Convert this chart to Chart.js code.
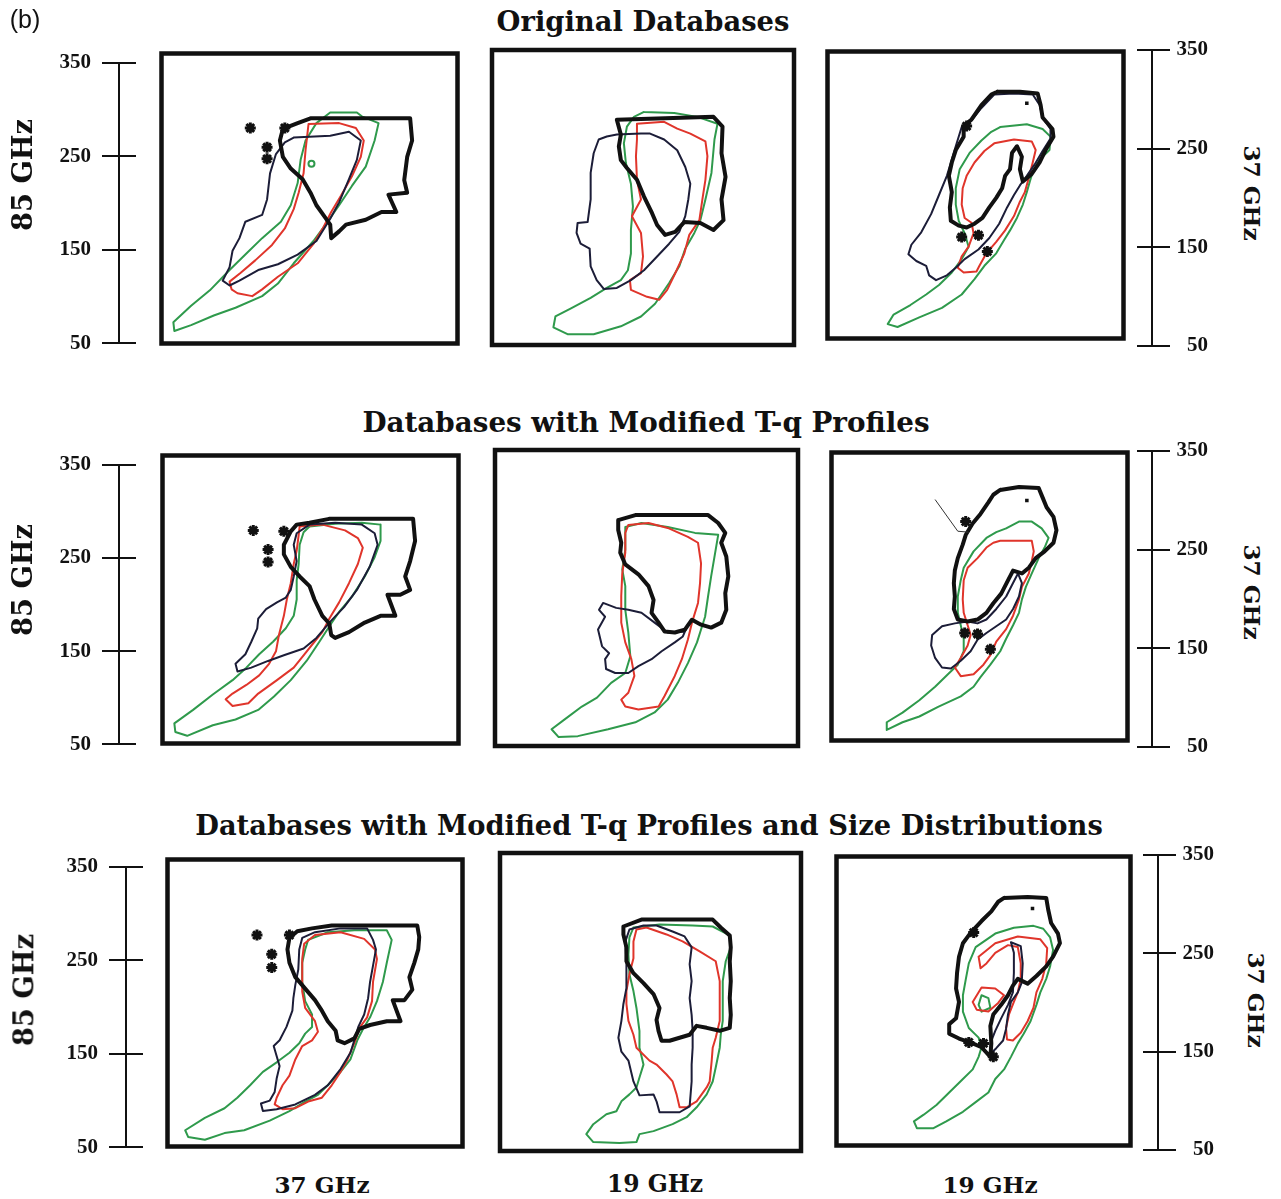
<!DOCTYPE html>
<html>
<head>
<meta charset="utf-8">
<script src="https://cdn.jsdelivr.net/npm/chart.js@4.4.1/dist/chart.umd.min.js"></script>
<style>
  html, body { margin: 0; padding: 0; background: #fff; }
  body { width: 1281px; height: 1199px; position: relative; overflow: hidden; }
  canvas { position: absolute; }
  .txt { position: absolute; white-space: nowrap; line-height: 1; color: #111; }
</style>
</head>
<body>
<script>
// ---- Axis values (brightness temperature, K) ----
const TB_TICKS = [50, 150, 250, 350];
const ROW_TITLES = [
  'Original Databases',
  'Databases with Modified T-q Profiles',
  'Databases with Modified T-q Profiles and Size Distributions'
];
const X_LABELS = ['37 GHz', '19 GHz', '19 GHz'];
const LEFT_LABEL = '85 GHz';
const RIGHT_LABEL = '37 GHz';

// ---- Row 1: original databases ----
// 37 GHz vs 85 GHz
const p1Thick = [[201,283],[302,283],[304,260],[299,243],[296,219],[299,206],[280,204],[288,186],[273,186],[257,178],[237,173],[230,166],[222,159],[221,173],[214,183],[207,193],[201,206],[193,220],[181,231],[173,243],[170,260],[173,272],[188,278]];
const p1Stars = [[140,273],[157,253],[157,241],[175,273]];
const p1Thin = [[184,263],[221,265],[240,269],[252,260],[248,240],[240,220],[230,196],[221,179],[207,156],[188,142],[168,132],[148,126],[129,115],[119,110],[112,115],[119,129],[122,146],[129,159],[135,176],[152,183],[157,199],[160,226],[166,246],[175,258]];
const p1Red = [[199,277],[230,278],[247,273],[255,260],[252,243],[243,223],[232,203],[222,186],[214,170],[204,153],[188,133],[168,119],[152,106],[142,99],[127,102],[121,106],[119,114],[130,123],[145,136],[162,152],[175,169],[184,189],[189,206],[194,226],[196,250]];
const p1Green = [[221,289],[248,289],[253,285],[270,278],[266,260],[257,233],[243,213],[230,193],[217,174],[204,156],[184,133],[168,112],[152,99],[125,87],[103,79],[80,69],[63,63],[62,72],[80,89],[99,105],[119,126],[135,142],[152,159],[171,176],[181,193],[188,216],[191,240],[196,260],[207,278]];
const p1GreenDots = [[202,236]];

// 19 GHz vs 85 GHz
const p2Thick = [[174,279],[270,282],[279,272],[278,245],[282,221],[278,198],[280,177],[270,167],[257,174],[241,175],[232,165],[222,162],[214,172],[209,184],[201,201],[194,218],[184,230],[178,238],[176,252],[178,264]];
const p2Thin = [[174,264],[198,265],[207,265],[221,259],[234,248],[242,231],[247,214],[245,198],[242,181],[236,165],[226,153],[214,140],[201,126],[188,116],[174,108],[161,107],[154,116],[148,130],[147,148],[138,153],[134,164],[135,174],[145,175],[148,198],[148,225],[151,245],[156,259],[164,262]];
const p2Red = [[194,275],[221,277],[234,270],[247,265],[262,257],[264,242],[262,218],[259,198],[256,177],[246,162],[241,143],[232,123],[224,106],[216,96],[204,99],[188,106],[187,116],[198,123],[200,140],[198,164],[189,181],[198,198],[194,218],[193,242],[194,259]];
const p2Green = [[201,287],[231,286],[254,282],[274,275],[271,259],[268,225],[262,198],[257,177],[251,164],[242,148],[236,130],[226,113],[212,92],[198,79],[178,69],[151,61],[125,61],[111,68],[113,79],[128,87],[148,98],[164,108],[178,116],[185,126],[188,143],[188,167],[190,191],[188,214],[183,235],[181,255],[184,272],[191,282]];

// 19 GHz vs 37 GHz
const p3Thick = [[222,308],[245,308],[263,306],[266,294],[268,281],[278,269],[279,261],[271,247],[265,234],[257,222],[248,214],[245,227],[247,240],[242,251],[237,244],[235,227],[230,220],[227,207],[221,197],[214,187],[207,176],[199,170],[191,166],[183,168],[175,173],[174,187],[176,203],[173,220],[176,234],[180,247],[188,261],[188,272],[196,279],[206,294],[216,305]];
const p3Stars = [[191,272],[186,156],[203,158],[212,141]];
const p3Dots = [[252,296]];
const p3Thin = [[186,271],[196,278],[206,291],[219,305],[239,306],[258,305],[265,294],[268,281],[276,269],[276,259],[268,246],[260,232],[252,220],[245,210],[239,200],[232,187],[224,170],[214,155],[203,143],[189,133],[180,124],[171,116],[160,111],[153,116],[150,126],[140,131],[132,138],[135,148],[145,161],[155,180],[163,200],[171,220],[176,237],[180,251]];
const p3Red = [[219,254],[239,258],[257,256],[261,247],[258,234],[253,214],[250,203],[245,193],[239,178],[230,163],[221,151],[211,139],[204,126],[201,120],[188,119],[182,124],[186,136],[193,146],[198,160],[196,171],[189,176],[186,190],[187,207],[191,220],[199,234],[209,246]];
const p3Green = [[225,271],[252,274],[268,269],[276,261],[275,247],[265,237],[258,224],[255,214],[252,203],[248,190],[242,176],[235,163],[229,153],[221,139],[209,126],[199,112],[186,96],[166,82],[143,72],[121,62],[111,65],[117,75],[134,85],[150,96],[163,106],[176,119],[186,133],[193,146],[189,160],[183,173],[180,190],[180,207],[184,227],[194,244],[206,257],[216,266]];

// ---- Row 2: modified T-q profiles ----
const p4Thick = [[219,284],[304,284],[306,261],[301,240],[296,224],[301,210],[291,205],[278,205],[286,183],[271,183],[255,176],[239,166],[225,160],[221,163],[219,175],[212,183],[204,200],[199,214],[189,224],[180,234],[173,247],[173,257],[180,271],[186,278],[199,280]];
const p4Stars = [[142,272],[157,252],[157,239],[173,271]];
const p4Thin = [[199,278],[225,280],[252,278],[265,269],[268,257],[260,234],[247,210],[234,192],[221,178],[206,160],[193,149],[173,142],[157,136],[140,129],[126,125],[124,133],[134,143],[140,156],[146,170],[147,180],[155,190],[166,197],[175,202],[180,210],[183,224],[186,240],[183,257],[186,269]];
const p4Red = [[189,276],[212,278],[235,272],[248,264],[253,254],[248,237],[239,217],[229,197],[219,180],[212,166],[204,156],[194,143],[183,129],[166,116],[147,102],[137,92],[121,89],[114,96],[121,102],[135,111],[148,121],[158,133],[165,146],[168,163],[173,183],[176,200],[180,217],[183,237],[186,251],[188,267]];
const p4Green = [[199,276],[225,279],[252,280],[271,278],[271,261],[265,244],[255,224],[242,203],[229,187],[221,175],[209,156],[196,136],[180,116],[163,99],[147,85],[124,75],[101,69],[75,58],[63,62],[62,71],[81,85],[101,101],[121,116],[135,129],[148,143],[162,156],[175,170],[183,183],[186,200],[186,220],[188,237],[189,257],[193,270]];

const p5Thick = [[172,279],[189,284],[261,284],[271,276],[278,266],[274,256],[279,242],[281,222],[278,205],[279,188],[274,175],[264,170],[254,173],[245,178],[238,168],[228,165],[218,166],[212,175],[205,185],[207,198],[202,212],[192,224],[179,234],[174,246],[175,256],[172,269]];
const p5Thin = [[157,195],[170,190],[182,188],[195,185],[208,175],[221,165],[238,166],[241,173],[236,161],[228,155],[215,146],[205,138],[192,131],[182,124],[169,124],[160,128],[159,138],[163,144],[156,151],[152,168],[159,181],[153,188]];
const p5Red = [[182,274],[202,276],[221,271],[241,262],[251,256],[254,235],[253,215],[251,195],[245,175],[241,158],[235,138],[228,121],[218,101],[212,90],[192,87],[179,90],[175,97],[182,104],[188,121],[185,138],[179,155],[175,175],[175,202],[176,225],[179,246],[179,266]];
const p5Green = [[179,272],[195,276],[221,272],[248,266],[271,264],[268,246],[264,222],[261,202],[258,181],[254,168],[250,155],[241,134],[231,114],[221,97],[208,84],[189,74],[162,67],[132,60],[113,59],[106,67],[119,77],[136,90],[151,99],[165,114],[179,124],[184,141],[182,165],[179,188],[179,212],[176,229],[179,249]];

const p6Thick = [[221,311],[240,314],[260,313],[264,303],[268,293],[275,283],[278,269],[275,256],[266,247],[257,240],[250,230],[243,224],[234,227],[229,217],[222,203],[214,193],[207,183],[198,176],[188,174],[178,176],[174,187],[175,200],[174,214],[175,227],[178,240],[183,254],[186,264],[193,276],[201,286],[209,298],[214,306]];
const p6Stars = [[186,278],[185,162],[198,161],[211,145]];
const p6Dots = [[248,300]];
const p6Pointer = [[155,301],[178,268],[189,267]];
const p6Thin = [[152,160],[162,169],[175,172],[188,174],[198,172],[207,176],[217,187],[227,200],[234,214],[239,224],[243,214],[240,200],[234,187],[227,176],[217,169],[207,162],[198,155],[191,143],[181,133],[171,125],[162,126],[155,136],[151,149]];
const p6Red = [[221,258],[253,258],[255,247],[253,237],[250,224],[243,210],[240,197],[234,180],[227,166],[217,153],[211,139],[204,129],[194,119],[181,117],[175,126],[181,136],[188,149],[191,160],[188,170],[184,183],[183,197],[184,217],[188,230],[198,240],[207,251],[214,256]];
const p6Green = [[227,271],[240,278],[253,278],[263,271],[270,261],[266,251],[260,240],[253,224],[247,210],[243,197],[240,183],[234,170],[227,156],[221,143],[211,129],[201,116],[194,106],[181,96],[158,85],[139,75],[122,69],[106,61],[106,69],[122,79],[139,92],[155,106],[168,119],[178,129],[184,143],[184,156],[181,170],[178,183],[178,200],[181,217],[184,230],[194,247],[207,261],[217,267]];

// ---- Row 3: modified T-q profiles and size distributions ----
const p7Thick = [[217,281],[304,281],[306,269],[305,256],[301,242],[296,227],[299,214],[291,203],[279,203],[287,181],[273,181],[256,177],[245,173],[240,163],[230,158],[223,161],[221,171],[213,181],[207,192],[200,203],[190,215],[180,227],[174,242],[172,256],[174,268],[182,275],[197,278]];
const p7Stars = [[141,271],[156,251],[156,237],[174,271]];
const p7Thin = [[200,274],[226,278],[253,278],[259,266],[262,256],[259,239],[256,222],[254,205],[250,188],[244,175],[240,161],[236,148],[226,131],[213,114],[200,104],[180,94],[161,89],[147,87],[145,95],[154,98],[159,107],[161,121],[164,134],[160,148],[158,155],[164,161],[171,175],[177,192],[178,205],[180,219],[183,235],[184,256],[187,268]];
const p7Red = [[189,262],[200,271],[226,274],[250,267],[261,256],[263,246],[259,222],[258,202],[253,185],[246,175],[240,158],[233,141],[226,128],[217,114],[207,101],[193,97],[180,90],[167,89],[159,94],[161,101],[167,114],[174,124],[180,141],[187,155],[197,161],[203,170],[200,181],[190,195],[187,212],[187,229],[187,246]];
const p7Green = [[193,266],[213,274],[240,276],[273,276],[278,266],[273,242],[269,222],[263,202],[256,185],[250,175],[243,161],[236,141],[226,128],[213,114],[203,104],[190,97],[174,87],[154,77],[128,67],[108,64],[88,57],[71,60],[68,67],[88,80],[108,90],[121,101],[134,114],[147,128],[161,138],[174,148],[184,158],[190,168],[197,175],[197,188],[190,202],[187,222],[187,242],[190,256]];

const p8Thick = [[173,276],[191,283],[262,283],[270,275],[279,267],[280,255],[279,241],[280,221],[279,204],[280,187],[279,174],[269,171],[256,174],[246,176],[239,167],[229,164],[219,161],[211,161],[208,171],[206,182],[209,194],[203,208],[193,219],[183,229],[176,241],[176,255],[173,268]];
const p8Thin = [[193,277],[206,277],[222,271],[234,266],[241,255],[239,238],[241,221],[239,204],[241,187],[242,171],[242,154],[241,137],[241,120],[239,95],[229,89],[209,89],[206,100],[203,107],[189,106],[183,120],[178,141],[171,150],[168,164],[171,181],[173,198],[176,214],[176,238],[175,261],[179,273]];
const p8Red = [[186,273],[196,275],[216,268],[232,261],[249,251],[265,241],[269,221],[269,201],[269,181],[265,164],[262,154],[261,141],[259,120],[256,114],[246,100],[236,94],[229,94],[226,107],[222,120],[216,127],[206,137],[199,141],[186,154],[183,167],[178,181],[176,198],[176,211],[179,228],[183,244],[183,261]];
const p8Green = [[183,275],[209,278],[242,277],[262,276],[279,267],[280,255],[275,241],[272,221],[272,201],[272,181],[270,167],[269,154],[265,134],[262,120],[256,107],[246,94],[236,84],[222,77],[203,70],[189,67],[186,59],[169,58],[143,59],[136,67],[143,77],[156,87],[166,90],[171,100],[179,107],[186,114],[189,124],[193,137],[189,154],[189,171],[186,194],[183,211],[179,228],[178,248],[179,265]];

const p9Thick = [[221,307],[245,308],[264,307],[266,295],[269,281],[276,270],[278,260],[271,246],[264,236],[254,226],[245,218],[235,223],[230,216],[225,206],[218,196],[210,186],[207,174],[208,156],[207,142],[198,152],[189,156],[175,161],[165,166],[165,176],[172,182],[175,199],[172,213],[173,229],[175,246],[179,260],[187,271],[198,283],[208,293],[215,303]];
const p9Stars = [[190,271],[185,157],[200,156],[210,142]];
const p9Dots = [[250,296]];
const p9Thin = [[228,261],[238,257],[240,239],[239,219],[235,209],[228,199],[225,186],[223,171],[220,159],[213,151],[208,146],[207,156],[212,169],[218,182],[225,196],[230,209],[231,229],[231,250]];
const p9Red = [[195,246],[212,260],[235,267],[258,264],[265,255],[264,239],[260,223],[254,209],[251,193],[245,179],[238,167],[230,159],[224,160],[223,172],[226,186],[231,199],[235,209],[238,223],[238,239],[235,256],[225,258],[212,250],[203,239],[197,234]];
const p9RedInner = [[189,199],[198,214],[212,213],[221,206],[215,198],[205,189],[193,191]];
const p9Green = [[192,256],[212,270],[231,276],[251,278],[261,275],[268,266],[271,253],[268,236],[264,223],[258,209],[254,196],[248,179],[241,166],[235,156],[228,142],[221,129],[212,119],[205,105],[192,95],[179,85],[162,75],[149,68],[132,68],[129,75],[139,82],[152,92],[165,105],[179,119],[189,129],[195,142],[198,152],[195,162],[185,172],[179,189],[179,206],[182,223],[185,239]];
const p9GreenInner = [[198,206],[205,203],[207,193],[198,189],[195,196]];

// ---- Page layout (pixel boxes of each framed plot and axis) ----
const PANELS = [
  { box: [157, 49, 462, 348],  thick: [p1Thick], thin: [p1Thin], red: [p1Red], green: [p1Green], stars: p1Stars, greenDots: p1GreenDots },
  { box: [492, 50, 794, 345],  thick: [p2Thick], thin: [p2Thin], red: [p2Red], green: [p2Green] },
  { box: [823, 47, 1128, 343], thick: [p3Thick], thin: [p3Thin], red: [p3Red], green: [p3Green], stars: p3Stars, blackDots: p3Dots },
  { box: [158, 451, 463, 748], thick: [p4Thick], thin: [p4Thin], red: [p4Red], green: [p4Green], stars: p4Stars },
  { box: [495, 450, 798, 746], thick: [p5Thick], thin: [p5Thin], red: [p5Red], green: [p5Green] },
  { box: [827, 448, 1132, 745], thick: [p6Thick], thin: [p6Thin], red: [p6Red], green: [p6Green], stars: p6Stars, blackDots: p6Dots, pointer: p6Pointer },
  { box: [163, 855, 467, 1151], thick: [p7Thick], thin: [p7Thin], red: [p7Red], green: [p7Green], stars: p7Stars },
  { box: [500, 853, 801, 1151], thick: [p8Thick], thin: [p8Thin], red: [p8Red], green: [p8Green] },
  { box: [832, 852, 1135, 1150], thick: [p9Thick], thin: [p9Thin], red: [p9Red, p9RedInner], green: [p9Green, p9GreenInner], stars: p9Stars, blackDots: p9Dots }
];
const LEFT_AXES = [
  { x: 119, top: 55, bottom: 351 },
  { x: 119, top: 457, bottom: 752 },
  { x: 126, top: 859, bottom: 1155 }
];
const RIGHT_AXES = [
  { x: 1152, top: 50, bottom: 346, labelRight: 1208 },
  { x: 1152, top: 451, bottom: 747, labelRight: 1208 },
  { x: 1158, top: 855, bottom: 1150, labelRight: 1214 }
];

const INK = '#111111';
const THIN_INK = '#1c1d38';
const RED = '#e0352b';
const GREEN = '#2f9a4c';
const SERIF = "'DejaVu Serif', serif";

function addCanvas(left, top, w, h) {
  const c = document.createElement('canvas');
  c.width = w; c.height = h;
  c.style.left = left + 'px'; c.style.top = top + 'px';
  c.style.width = w + 'px'; c.style.height = h + 'px';
  document.body.appendChild(c);
  return c;
}

// Place a text label centred on (cx, cy), sized so its run length equals `len`
function addText(str, cx, cy, len, rotate, family, weight) {
  const el = document.createElement('div');
  el.className = 'txt';
  el.textContent = str;
  el.style.fontFamily = family || SERIF;
  el.style.fontWeight = weight || 'bold';
  el.style.fontSize = '20px';
  document.body.appendChild(el);
  const w = el.offsetWidth;
  el.style.fontSize = (20 * len / w).toFixed(2) + 'px';
  el.style.left = cx + 'px';
  el.style.top = cy + 'px';
  el.style.transform = 'translate(-50%, -50%)' + (rotate ? ' rotate(' + rotate + 'deg)' : '');
  return el;
}

const toXY = pts => pts.map(([x, y]) => ({ x, y }));
const ring = pts => { const a = toXY(pts); a.push({ ...a[0] }); return a; };

const framePlugin = {
  id: 'frame',
  afterDraw(chart) {
    const { ctx, chartArea: a } = chart;
    ctx.save();
    ctx.lineWidth = 4.5;
    ctx.strokeStyle = INK;
    ctx.strokeRect(a.left, a.top, a.right - a.left, a.bottom - a.top);
    ctx.restore();
  }
};

function contour(pts, color, width, order) {
  return {
    data: ring(pts), showLine: true, borderColor: color, borderWidth: width,
    pointRadius: 0, fill: false, tension: 0, order, borderJoinStyle: 'round', borderCapStyle: 'round'
  };
}

function makePanel(p) {
  const pad = 4;
  const [l, t, r, b] = p.box;
  const cv = addCanvas(l - pad, t - pad, r - l + 2 * pad, b - t + 2 * pad);
  const ds = [];
  p.green.forEach(g => ds.push(contour(g, GREEN, 2, 4)));
  p.red.forEach(g => ds.push(contour(g, RED, 2, 3)));
  p.thin.forEach(g => ds.push(contour(g, THIN_INK, 2, 2)));
  p.thick.forEach(g => ds.push(contour(g, INK, 4, 1)));
  if (p.stars) ds.push({ data: toXY(p.stars), pointStyle: 'star', pointRadius: 5.5, borderWidth: 3, borderColor: INK, backgroundColor: INK, showLine: false, order: 0 });
  if (p.blackDots) ds.push({ data: toXY(p.blackDots), pointStyle: 'rect', pointRadius: 2.5, borderWidth: 0, backgroundColor: INK, showLine: false, order: 0 });
  if (p.greenDots) ds.push({ data: toXY(p.greenDots), pointStyle: 'circle', pointRadius: 3, borderWidth: 2, borderColor: GREEN, backgroundColor: 'rgba(0,0,0,0)', showLine: false, order: 0 });
  if (p.pointer) ds.push({ data: toXY(p.pointer), showLine: true, borderColor: '#333', borderWidth: 1, pointRadius: 0, order: 0 });
  new Chart(cv, {
    type: 'scatter',
    data: { datasets: ds },
    options: {
      responsive: false, animation: false, events: [],
      layout: { padding: pad },
      plugins: { legend: { display: false }, tooltip: { enabled: false } },
      scales: {
        x: { type: 'linear', display: false, min: 50, max: 350 },
        y: { type: 'linear', display: false, min: 50, max: 350 }
      }
    },
    plugins: [framePlugin]
  });
}

function makeAxis(side, ax) {
  const padV = 16;
  const areaW = side === 'left' ? 17 : 15;
  const scaleW = side === 'left' ? 90 : (ax.labelRight - ax.x);
  const left = side === 'left' ? ax.x - scaleW : ax.x - areaW;
  const W = scaleW + areaW;
  const H = ax.bottom - ax.top + 2 * padV;
  const cv = addCanvas(left, ax.top - padV, W, H);
  new Chart(cv, {
    type: 'scatter',
    data: { datasets: [] },
    options: {
      responsive: false, animation: false, events: [],
      layout: { padding: { top: padV, bottom: padV, left: 0, right: 0 } },
      plugins: { legend: { display: false }, tooltip: { enabled: false } },
      scales: {
        x: { type: 'linear', display: false, min: 50, max: 350 },
        y: {
          type: 'linear', position: side, min: 50, max: 350,
          afterBuildTicks: s => { s.ticks = TB_TICKS.map(v => ({ value: v })); },
          afterFit: s => { s.width = scaleW; },
          grid: { display: true, drawOnChartArea: true, drawTicks: true, tickLength: side === 'left' ? 17 : 18, color: INK, lineWidth: 2 },
          border: { display: true, color: INK, width: 2 },
          ticks: {
            color: INK, padding: side === 'left' ? 11 : 1, crossAlign: side === 'left' ? 'near' : 'far',
            font: { family: "'Liberation Serif', serif", weight: 'bold', size: 21 }
          }
        }
      }
    }
  });
}

PANELS.forEach(makePanel);
LEFT_AXES.forEach(a => makeAxis('left', a));
RIGHT_AXES.forEach(a => makeAxis('right', a));

// Titles and axis names
const TITLE_POS = [[643, 22, 293], [646, 423, 567], [649, 826, 908]];
ROW_TITLES.forEach((t, i) => addText(t, TITLE_POS[i][0], TITLE_POS[i][1], TITLE_POS[i][2], 0));
const XLAB_POS = [[322, 1185, 95], [655, 1185, 96], [990, 1185, 95]];
X_LABELS.forEach((t, i) => addText(t, XLAB_POS[i][0], XLAB_POS[i][1], XLAB_POS[i][2], 0));
[[23, 175], [23, 580], [24, 990]].forEach(([x, y]) => addText(LEFT_LABEL, x, y, 112, -90));
[[1252, 193], [1252, 592], [1256, 1000]].forEach(([x, y]) => addText(RIGHT_LABEL, x, y, 95, 90));
addText('(b)', 25, 19, 30, 0, "'Liberation Sans', sans-serif", 'normal');
</script>
</body>
</html>
